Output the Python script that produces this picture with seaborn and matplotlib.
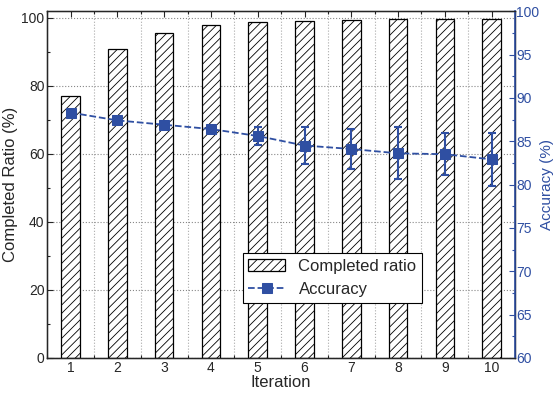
import matplotlib.pyplot as plt
import seaborn as sns
import pandas as pd
from matplotlib.ticker import MultipleLocator

# Data
iterations = [1, 2, 3, 4, 5, 6, 7, 8, 9, 10]
completed_ratio = [77.1, 90.8, 95.7, 97.9, 98.7, 99.2, 99.4, 99.6, 99.7, 99.8]
accuracy = [88.3, 87.4, 86.9, 86.4, 85.6, 84.5, 84.1, 83.6, 83.5, 82.9]
accuracy_err = [0, 0, 0, 0, 1.0, 2.15, 2.3, 3.0, 2.45, 3.1]

df = pd.DataFrame({'iteration': iterations, 'completed': completed_ratio,
                   'accuracy': accuracy, 'err': accuracy_err})

sns.set_style('ticks')
plt.rcParams['font.family'] = ['Liberation Sans', 'DejaVu Sans']
plt.rcParams['hatch.color'] = '#777777'
plt.rcParams['hatch.linewidth'] = 0.6

blue = '#2F4FA2'

fig, ax = plt.subplots(figsize=(5.55, 3.99), dpi=100)
fig.subplots_adjust(left=0.085, right=0.928, top=0.972, bottom=0.103)

sns.barplot(data=df, x='iteration', y='completed', native_scale=True, width=0.4,
            color='white', edgecolor='black', linewidth=0.9, ax=ax,
            label='Completed ratio')
for p in ax.patches:
    p.set_hatch('////')

ax.set_xlim(0.5, 10.5)
ax.set_ylim(0, 102)
ax.set_xticks(iterations)
ax.xaxis.set_minor_locator(MultipleLocator(0.5))
ax.yaxis.set_major_locator(MultipleLocator(20))
ax.yaxis.set_minor_locator(MultipleLocator(10))
ax.grid(axis='y', which='major', color='#888888', linestyle=':', linewidth=0.8)
ax.set_axisbelow(True)
for xv in [i + 0.5 for i in iterations[:-1]]:
    ax.axvline(xv, color='#aaaaaa', linestyle=':', linewidth=0.8, zorder=0)
ax.tick_params(which='both', direction='in', top=True, labelsize=10, width=0.8, pad=2)
ax.tick_params(which='major', length=4)
ax.tick_params(which='minor', length=2)
ax.set_xlabel('Iteration', fontsize=12, labelpad=0)
ax.set_ylabel('Completed Ratio (%)', fontsize=12, labelpad=2)
for s in ax.spines.values():
    s.set_linewidth(1.0)
    s.set_color('black')

ax2 = ax.twinx()
sns.lineplot(data=df, x='iteration', y='accuracy', color=blue, linestyle='--',
             marker='s', markersize=7, markeredgecolor=blue, linewidth=1.3,
             ax=ax2, label='Accuracy', legend=False)
ax2.errorbar(df['iteration'], df['accuracy'], yerr=df['err'], fmt='none',
             ecolor=blue, elinewidth=1.5, capsize=3, capthick=1.5)
ax2.set_ylim(60, 100)
ax2.yaxis.set_major_locator(MultipleLocator(5))
ax2.yaxis.set_minor_locator(MultipleLocator(2.5))
ax2.tick_params(which='both', direction='in', colors=blue, labelsize=10, width=0.8, pad=1)
ax2.tick_params(which='major', length=4)
ax2.tick_params(which='minor', length=2)
ax2.spines['right'].set_color(blue)
ax2.spines['right'].set_linewidth(1.2)
ax2.set_ylabel('Accuracy (%)', fontsize=11, color=blue, labelpad=0)
ax2.set_xlabel('')

h1, l1 = ax.get_legend_handles_labels()
h2, l2 = ax2.get_legend_handles_labels()
if ax.get_legend() is not None:
    ax.get_legend().remove()
leg = ax2.legend(h1 + h2, l1 + l2, loc='lower left', bbox_to_anchor=(0.40, 0.135),
                 fontsize=12, frameon=True, fancybox=False, edgecolor='black',
                 framealpha=1, handlelength=2.2, borderpad=0.35, labelspacing=0.5)
leg.get_frame().set_linewidth(0.8)

plt.savefig('out.png')
plt.close()
